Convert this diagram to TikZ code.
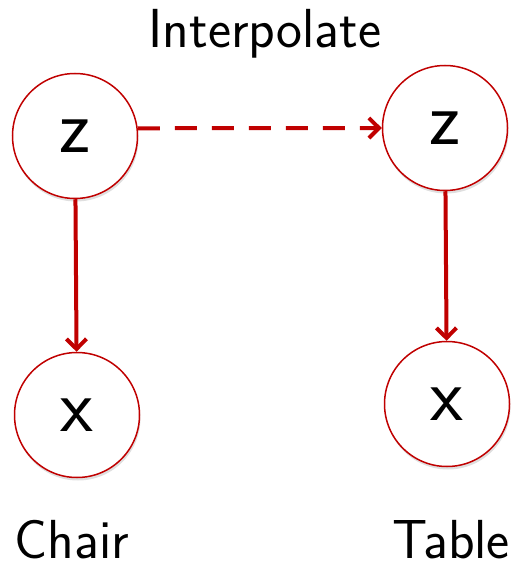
\documentclass[tikz,border=0pt]{standalone}
\usetikzlibrary{arrows.meta,shadows}
\definecolor{dred}{HTML}{C00000}
\begin{document}
\begin{tikzpicture}[x=1pt,y=-1pt,
  var/.style={circle,draw=dred,line width=1.5pt,fill=white,minimum size=125pt,inner sep=0pt,
    font=\sffamily\fontsize{76}{80}\selectfont,
    drop shadow={shadow xshift=1pt,shadow yshift=-3pt,opacity=0.25}},
  lbl/.style={anchor=base,inner sep=0pt,font=\sffamily\fontsize{55}{60}\selectfont},
  edge/.style={draw=dred,line width=4pt,-{Straight Barb[length=10pt,width=20pt,line width=4pt]}}]
\useasboundingbox (0,0) rectangle (521,569);
\node[var] (z1) at (75,136) {z};
\node[var] (z2) at (445,128) {z};
\node[var] (x1) at (77,415) {x};
\node[var] (x2) at (447,404) {x};
\node[lbl] (t) at (265,48) {Interpolate};
\node[lbl] (c) at (72,558) {Chair};
\node[lbl] (tb) at (451,558) {Table};
\draw[edge] (z1) -- (x1);
\draw[edge] (z2) -- (x2);
\draw[edge,dash pattern=on 22pt off 15pt] (z1.7) -- (z2.west);
\end{tikzpicture}
\end{document}
